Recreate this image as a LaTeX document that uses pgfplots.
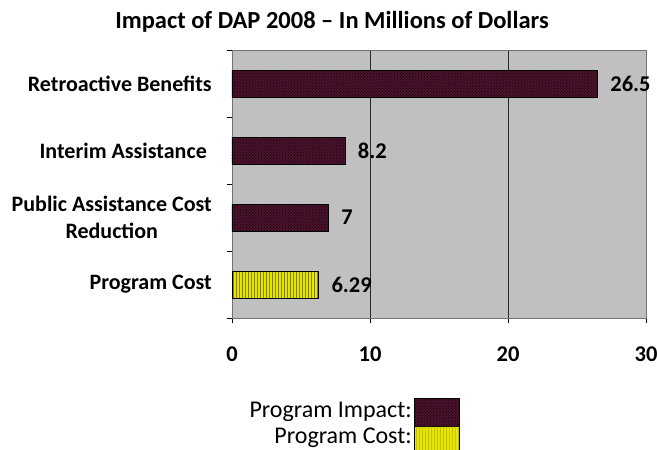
\documentclass[border=0pt]{standalone}
\usepackage{pgfplots}
\pgfplotsset{compat=1.18}
\usepackage{fontspec}
\setmainfont{Carlito}
\usetikzlibrary{patterns}
\definecolor{plotbg}{RGB}{192,192,192}
\definecolor{impact}{RGB}{78,18,46}
\definecolor{costy}{RGB}{230,230,0}
\begin{document}
\begin{tikzpicture}[x=1bp,y=1bp]
\begin{axis}[
  name=ax,
  xbar, bar width=27bp,
  width=414bp, height=268bp, scale only axis,
  xmin=0, xmax=30, ymin=-0.5, ymax=3.5,
  axis background/.style={fill=plotbg},
  axis line style={black!55},
  xtick={0,10,20,30},
  xmajorgrids, grid style={black!85, line width=0.8pt},
  ytick={-0.5,0.5,1.5,2.5,3.5},
  yticklabels={},
  tick pos=left,
  extra y ticks={0,1,2,3},
  extra y tick labels={Program Cost,{Public Assistance Cost\\Reduction},{Interim Assistance\hspace{5bp}},Retroactive Benefits},
  extra y tick style={major tick length=0pt, grid=none, yticklabel style={align=center, font=\fontsize{22bp}{27bp}\selectfont\bfseries, inner sep=0pt, xshift=-20bp}},
  tick align=outside, major tick length=5bp,
  tick style={black, line width=0.6pt},
  xticklabel style={font=\fontsize{22.5bp}{27bp}\selectfont\bfseries, yshift=-20bp},
  /pgf/number format/assume math mode=true,
  nodes near coords,
  nodes near coords style={font=\fontsize{22.5bp}{27bp}\selectfont\bfseries, black, xshift=9bp, anchor=west},
  point meta=explicit symbolic,
  clip=false,
]
\addplot[draw=black, line width=0.8pt, fill=impact, postaction={pattern=crosshatch dots, pattern color=black}, bar shift=0pt]
  coordinates {(26.5,3) [26.5] (8.2,2) [8.2] (7,1) [7]};
\addplot[draw=black, line width=0.8pt, fill=costy, postaction={pattern=vertical lines, pattern color=olive}, bar shift=0pt]
  coordinates {(6.29,0) [6.29]};
\coordinate (O) at (rel axis cs:0,0);
\end{axis}
\node[font=\fontsize{24.5bp}{29bp}\selectfont\bfseries] at ([shift={(100bp,296bp)}]O) {Impact of DAP 2008 -- In Millions of Dollars};
\node[font=\fontsize{24bp}{29bp}\selectfont, anchor=east, inner sep=1bp] at ([shift={(181bp,-94bp)}]O) {Program Impact:};
\node[font=\fontsize{24bp}{29bp}\selectfont, anchor=east, inner sep=1bp] at ([shift={(181bp,-120bp)}]O) {Program Cost:};
\draw[black, line width=0.8pt, fill=impact, postaction={pattern=crosshatch dots, pattern color=black}] ([shift={(182bp,-80bp)}]O) rectangle ([shift={(227bp,-108bp)}]O);
\draw[black, line width=0.8pt, fill=costy, postaction={pattern=vertical lines, pattern color=olive}] ([shift={(182bp,-108bp)}]O) rectangle ([shift={(227bp,-136bp)}]O);
\pgfresetboundingbox
\path ([shift={(-232bp,-132bp)}]O) rectangle ([shift={(425bp,318bp)}]O);
\end{tikzpicture}
\end{document}
